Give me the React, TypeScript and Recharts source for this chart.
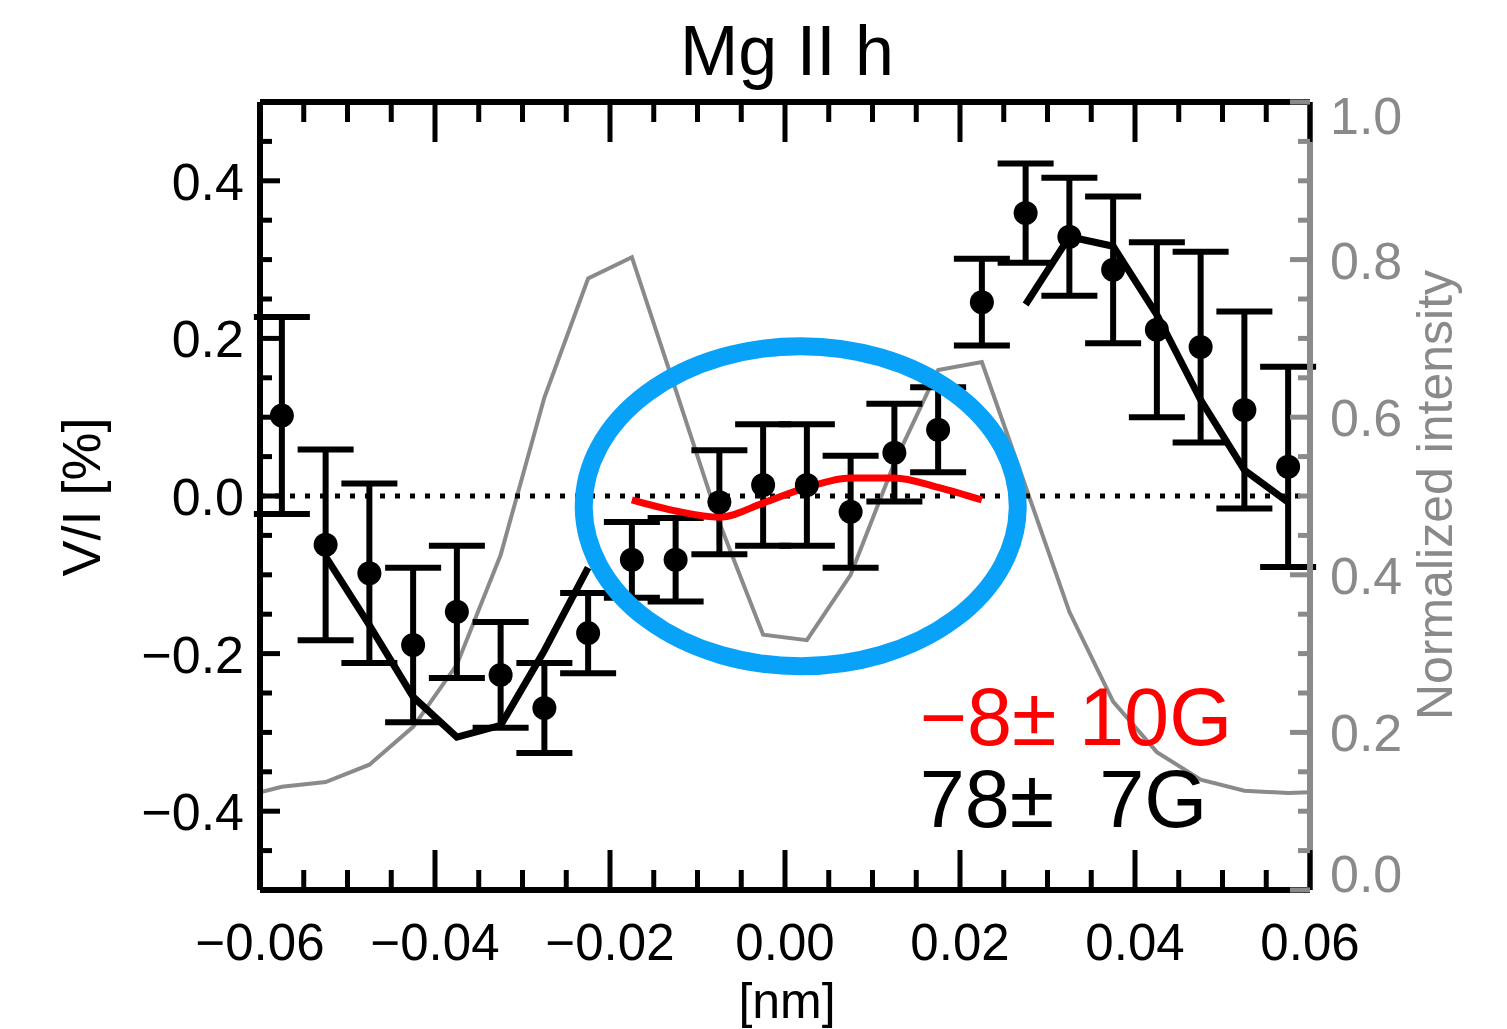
import React from "react";
import {
  ComposedChart,
  XAxis,
  YAxis,
  Line,
  Scatter,
  ErrorBar,
  ReferenceLine,
  ReferenceDot,
} from "recharts";

// wavelength offset from line centre [nm]
const WAVELENGTH = [
  -0.0575, -0.0525, -0.0475, -0.0425, -0.0375, -0.0325, -0.0275, -0.0225,
  -0.0175, -0.0125, -0.0075, -0.0025, 0.0025, 0.0075, 0.0125, 0.0175,
  0.0225, 0.0275, 0.0325, 0.0375, 0.0425, 0.0475, 0.0525, 0.0575,
];

// observed V/I [%] and its 1-sigma error
const VI = [
  0.102, -0.062, -0.098, -0.189, -0.147, -0.227, -0.269, -0.174,
  -0.081, -0.081, -0.008, 0.014, 0.014, -0.02, 0.055, 0.084,
  0.246, 0.359, 0.329, 0.287, 0.211, 0.189, 0.109, 0.037,
];
const VI_ERR = [
  0.125, 0.121, 0.114, 0.098, 0.084, 0.067, 0.057, 0.051,
  0.048, 0.053, 0.066, 0.077, 0.077, 0.071, 0.062, 0.054,
  0.055, 0.063, 0.075, 0.093, 0.111, 0.121, 0.125, 0.127,
];

// weak-field fits: wings (black) and core (red)
const FIT_WINGS = [
  null, -0.077, -0.164, -0.255, -0.306, -0.291, -0.196, -0.091,
  null, null, null, null, null, null, null, null,
  null, 0.243, 0.329, 0.317, 0.23, 0.122, 0.033, -0.008,
];
const FIT_CORE = [
  null, null, null, null, null, null, null, null,
  -0.005, -0.019, -0.027, -0.009, 0.011, 0.023, 0.023, 0.011,
  -0.005, null, null, null, null, null, null, null,
];

// normalized Stokes I profile (right axis)
const PROFILE_X = [-0.06, ...WAVELENGTH, 0.06];
const PROFILE = [
  0.124, 0.131, 0.137, 0.159, 0.207, 0.286, 0.425, 0.625, 0.776,
  0.803, 0.635, 0.466, 0.324, 0.317, 0.4, 0.542, 0.66,
  0.67, 0.512, 0.353, 0.239, 0.175, 0.14, 0.126, 0.123, 0.124,
];

const X_TICKS = [
  -0.06, -0.055, -0.05, -0.045, -0.04, -0.035, -0.03, -0.025, -0.02, -0.015,
  -0.01, -0.005, 0, 0.005, 0.01, 0.015, 0.02, 0.025, 0.03, 0.035, 0.04,
  0.045, 0.05, 0.055, 0.06,
];
const VI_TICKS = [
  -0.5, -0.45, -0.4, -0.35, -0.3, -0.25, -0.2, -0.15, -0.1, -0.05, 0,
  0.05, 0.1, 0.15, 0.2, 0.25, 0.3, 0.35, 0.4, 0.45, 0.5,
];
const INT_TICKS = [
  0, 0.05, 0.1, 0.15, 0.2, 0.25, 0.3, 0.35, 0.4, 0.45, 0.5,
  0.55, 0.6, 0.65, 0.7, 0.75, 0.8, 0.85, 0.9, 0.95, 1,
];

const FIELD_CORE = "\u22128\u00b1 10G";
const FIELD_WINGS = "78\u00b1  7G";

const rows = WAVELENGTH.map((x, i) => ({
  x,
  vi: VI[i],
  err: VI_ERR[i],
  wings: FIT_WINGS[i],
  core: FIT_CORE[i],
}));
const profileRows = PROFILE_X.map((x, i) => ({ x, intensity: PROFILE[i] }));

const FONT = "'Liberation Sans', Arial, Helvetica, sans-serif";
const GRAY = "#8a8a8a";

const isMultiple = (v: number, step: number) =>
  Math.abs(v / step - Math.round(v / step)) < 1e-6;
const fmt = (v: number, d: number) =>
  (v < 0 ? "\u2212" : "") + Math.abs(v).toFixed(d);

const BottomTick = (p: any) => {
  const v = p.payload.value;
  const major = isMultiple(v, 0.02);
  return (
    <g>
      <line x1={p.x} x2={p.x} y1={p.y} y2={p.y - (major ? 40 : 20)} stroke="#000" strokeWidth={5} />
      {major && (
        <text x={p.x} y={p.y + 70} textAnchor="middle" fontSize={51} fontFamily={FONT} fill="#000">
          {fmt(v, 2)}
        </text>
      )}
    </g>
  );
};

const TopTick = (p: any) => {
  const major = isMultiple(p.payload.value, 0.02);
  return <line x1={p.x} x2={p.x} y1={p.y} y2={p.y + (major ? 40 : 20)} stroke="#000" strokeWidth={5} />;
};

const LeftTick = (p: any) => {
  const v = p.payload.value;
  const major = isMultiple(v, 0.2);
  return (
    <g>
      <line x1={p.x} x2={p.x + (major ? 20 : 12)} y1={p.y} y2={p.y} stroke="#000" strokeWidth={5} />
      {major && Math.abs(v) < 0.45 && (
        <text x={p.x - 16} y={p.y + 19} textAnchor="end" fontSize={52} fontFamily={FONT} fill="#000">
          {fmt(v, 1)}
        </text>
      )}
    </g>
  );
};

const RightTick = (p: any) => {
  const v = p.payload.value;
  const major = isMultiple(v, 0.2);
  // end labels are nudged inside the frame
  const shift = v === 1 ? 13 : v === 0 ? -17 : 0;
  return (
    <g>
      <line x1={p.x} x2={p.x - (major ? 20 : 12)} y1={p.y} y2={p.y} stroke={GRAY} strokeWidth={5} />
      {major && (
        <text x={p.x + 20} y={p.y + 19 + shift} textAnchor="start" fontSize={52} fontFamily={FONT} fill={GRAY}>
          {fmt(v, 1)}
        </text>
      )}
    </g>
  );
};

const Dot = (p: any) => <circle cx={p.cx} cy={p.cy} r={12} fill="#000" />;

const Ring = (p: any) => (
  <ellipse cx={p.cx} cy={p.cy} rx={217} ry={160} fill="none" stroke="#08a2f8" strokeWidth={18} />
);

const fieldText = (text: string, color: string) => (p: any) => (
  <text x={p.cx} y={p.cy} fontSize={81} fontFamily={FONT} fill={color} style={{ whiteSpace: "pre" }}>
    {text}
  </text>
);

export default function App() {
  return (
    <div style={{ position: "absolute", left: 0, top: 0, width: 1507, height: 1029, background: "#fff" }}>
      <ComposedChart
        width={1507}
        height={1029}
        data={rows}
        margin={{ top: 101, right: 196, bottom: 138, left: 259 }}
      >
        <XAxis
          xAxisId="b"
          type="number"
          dataKey="x"
          domain={[-0.06, 0.06]}
          allowDataOverflow
          ticks={X_TICKS}
          interval={0}
          height={1}
          tickSize={0}
          tickMargin={0}
          tickLine={false}
          tick={<BottomTick />}
          axisLine={{ stroke: "#000", strokeWidth: 6 }}
        />
        <XAxis
          xAxisId="t"
          orientation="top"
          type="number"
          dataKey="x"
          domain={[-0.06, 0.06]}
          allowDataOverflow
          ticks={X_TICKS}
          interval={0}
          height={1}
          tickSize={0}
          tickMargin={0}
          tickLine={false}
          tick={<TopTick />}
          axisLine={{ stroke: "#000", strokeWidth: 6 }}
        />
        <YAxis
          yAxisId="v"
          type="number"
          domain={[-0.5, 0.5]}
          allowDataOverflow
          ticks={VI_TICKS}
          interval={0}
          width={1}
          tickSize={0}
          tickMargin={0}
          tickLine={false}
          tick={<LeftTick />}
          axisLine={{ stroke: "#000", strokeWidth: 6 }}
        />
        <YAxis
          yAxisId="i"
          orientation="right"
          type="number"
          domain={[0, 1]}
          allowDataOverflow
          ticks={INT_TICKS}
          interval={0}
          width={1}
          tickSize={0}
          tickMargin={0}
          tickLine={false}
          tick={<RightTick />}
          axisLine={{ stroke: GRAY, strokeWidth: 6 }}
        />

        <Line
          xAxisId="b"
          yAxisId="i"
          data={profileRows}
          dataKey="intensity"
          type="linear"
          stroke={GRAY}
          strokeWidth={4}
          dot={false}
          isAnimationActive={false}
        />
        <ReferenceLine xAxisId="b" yAxisId="v" y={0} stroke="#000" strokeWidth={5} strokeDasharray="5 10" />
        <Scatter xAxisId="b" yAxisId="v" dataKey="vi" shape={<Dot />} isAnimationActive={false}>
          <ErrorBar dataKey="err" direction="y" width={28} stroke="#000" strokeWidth={6} />
        </Scatter>
        <Line
          xAxisId="b"
          yAxisId="v"
          dataKey="wings"
          type="linear"
          stroke="#000"
          strokeWidth={7}
          dot={false}
          isAnimationActive={false}
        />
        <Line
          xAxisId="b"
          yAxisId="v"
          dataKey="core"
          type="monotone"
          stroke="#ff0000"
          strokeWidth={7}
          dot={false}
          isAnimationActive={false}
        />
        <ReferenceDot xAxisId="b" yAxisId="v" x={0.0018} y={-0.013} r={0} shape={<Ring />} />
        <ReferenceDot xAxisId="b" yAxisId="v" x={0.0154} y={-0.316} r={0} shape={fieldText(FIELD_CORE, "#ff0000")} />
        <ReferenceDot xAxisId="b" yAxisId="v" x={0.0154} y={-0.42} r={0} shape={fieldText(FIELD_WINGS, "#000")} />
      </ComposedChart>

      <svg
        width={1507}
        height={1029}
        style={{ position: "absolute", left: 0, top: 0, pointerEvents: "none" }}
        fontFamily={FONT}
      >
        <text x={787} y={75} textAnchor="middle" fontSize={70} fill="#000">
          Mg II h
        </text>
        <text x={787} y={1018} textAnchor="middle" fontSize={50} fill="#000">
          [nm]
        </text>
        <text x={100} y={497} textAnchor="middle" fontSize={54} fill="#000" transform="rotate(-90 100 497)">
          V/I [%]
        </text>
        <text x={1452} y={495} textAnchor="middle" fontSize={50} fill={GRAY} transform="rotate(-90 1452 495)">
          Normalized intensity
        </text>
      </svg>
    </div>
  );
}
